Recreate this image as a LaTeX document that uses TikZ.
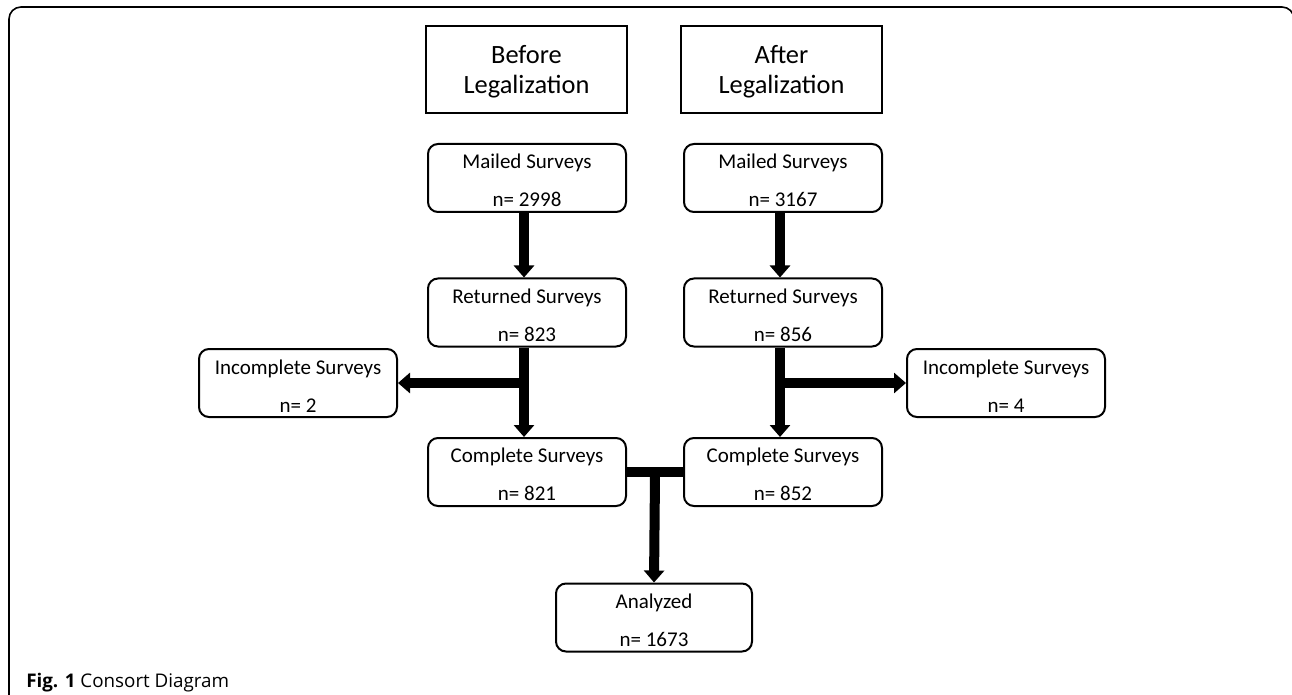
\documentclass[tikz,border=0pt]{standalone}
\usepackage{fontspec}
\setmainfont{Carlito}
\newfontfamily\capfont{Open Sans}
\usetikzlibrary{arrows.meta,calc}
\begin{document}
\begin{tikzpicture}[x=0.75pt,y=-0.75pt,
  hdr/.style={draw,line width=1.5pt,minimum width=150.75pt,minimum height=65.25pt,
    inner sep=1pt,align=center,font=\fontsize{19.8}{22.5}\selectfont},
  box/.style={draw,line width=1.5pt,rounded corners=7.5pt,minimum width=148.5pt,
    minimum height=51pt,inner sep=1pt,align=center,font=\fontsize{15.75}{18}\selectfont},
  big/.style={line width=7.5pt},
  bigarrow/.style={line width=7.5pt,-{Triangle[width=15pt,length=9pt]}}
]
\useasboundingbox (0,0) rectangle (1292,695);
\clip (0,0) rectangle (1292,695);
% frame
\draw[line width=1.2pt,rounded corners=9pt] (9,720) -- (9,7) -- (1294,7) -- (1294,720);
% headers
\node[hdr] (bef) at (526.5,69.5) {\rule{0pt}{17.6pt}Before\\Legalization};
\node[hdr] (aft) at (781.5,69.5) {\rule{0pt}{17.6pt}After\\Legalization};
% boxes
\node[box] (mailL) at (527,178) {\rule{0pt}{15pt}Mailed Surveys\\[10.5pt]n= 2998};
\node[box] (mailR) at (783,178) {\rule{0pt}{15pt}Mailed Surveys\\[10.5pt]n= 3167};
\node[box] (retL) at (527,312.5) {\rule{0pt}{15pt}Returned Surveys\\[10.5pt]n= 823};
\node[box] (retR) at (783,312.5) {\rule{0pt}{15pt}Returned Surveys\\[10.5pt]n= 856};
\node[box] (incL) at (298,383) {\rule{0pt}{15pt}Incomplete Surveys\\[10.5pt]n= 2};
\node[box] (incR) at (1006,383) {\rule{0pt}{15pt}Incomplete Surveys\\[10.5pt]n= 4};
\node[box] (compL) at (527,472) {\rule{0pt}{15pt}Complete Surveys\\[10.5pt]n= 821};
\node[box] (compR) at (783,472) {\rule{0pt}{15pt}Complete Surveys\\[10.5pt]n= 852};
\node[box,minimum width=147pt] (ana) at (654,617.5) {\rule{0pt}{15pt}Analyzed\\[10.5pt]n= 1673};
% connectors
\draw[bigarrow] ([xshift=-2.25pt]mailL.south) -- ([xshift=-2.25pt]retL.north);
\draw[bigarrow] ([xshift=-2.25pt]mailR.south) -- ([xshift=-2.25pt]retR.north);
\draw[bigarrow] ([xshift=-2.25pt]retL.south) -- ([xshift=-2.25pt]compL.north);
\draw[bigarrow] ([xshift=-2.25pt]retR.south) -- ([xshift=-2.25pt]compR.north);
\coordinate (jL) at ([xshift=-2.25pt]retL.south |- incL.east);
\coordinate (jR) at ([xshift=-2.25pt]retR.south |- incR.west);
\draw[bigarrow] (jL) -- (incL.east);
\draw[bigarrow] (jR) -- (incR.west);
\draw[big] (compL.east) -- (compR.west);
\coordinate (m) at ($(compL.east)!0.5!(compR.west)$);
\draw[bigarrow] ([yshift=-3pt]m) -- (ana.north);
% caption
\node[anchor=base west,inner sep=0pt,font=\capfont\fontsize{14.1}{17}\selectfont] (cap) at (26,687) {\textbf{Fig. 1} Consort Diagram};
\end{tikzpicture}
\end{document}
